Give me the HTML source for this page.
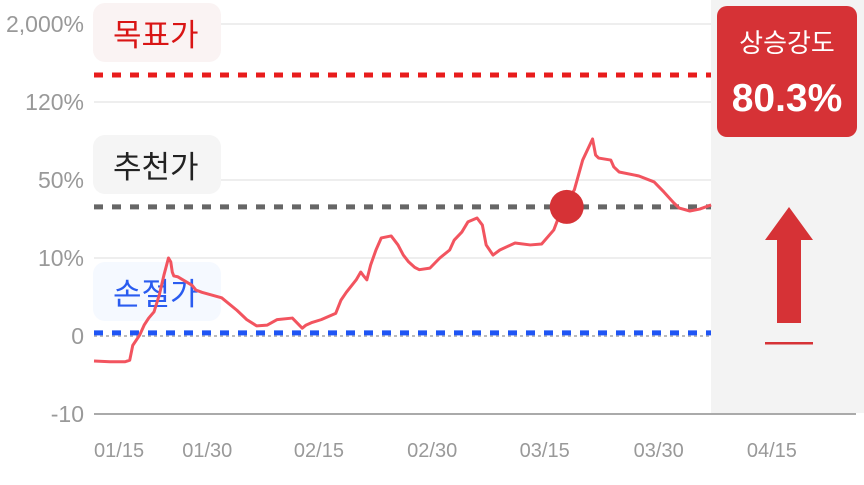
<!DOCTYPE html>
<html><head><meta charset="utf-8"><style>
body{margin:0;background:#fff;width:864px;height:480px;overflow:hidden;font-family:"Liberation Sans","Noto Sans CJK KR",sans-serif}
svg text{font-family:"Liberation Sans","Noto Sans CJK KR",sans-serif}
</style></head><body>
<svg id="chart" width="864" height="480" xmlns="http://www.w3.org/2000/svg">
<rect x="711" y="0" width="153" height="413" fill="#f3f3f3"/>
<g id="grid"></g>
<g id="labels"></g>
<g id="levels"></g>
<g id="series"></g>
<rect x="717" y="6" width="140" height="131" rx="10" fill="#d63236"/>
<text x="787" y="52" fill="#fff" font-size="26" text-anchor="middle">상승강도</text>
<text x="787" y="111" fill="#fff" font-size="39" font-weight="bold" text-anchor="middle">80.3%</text>
<polygon points="789,207 813,240 801,240 801,323 777,323 777,240 765,240" fill="#d63236"/>
<rect x="765" y="342" width="48" height="2.5" fill="#d63236"/>
</svg>
<script>
const tickValues=[-10,0,10,50,120,2000];
const tickLabels=["-10","0","10%","50%","120%","2,000%"];
const xLabels=["01/15","01/30","02/15","02/30","03/15","03/30","04/15"];
const xLabelDays=[3.3,14.9,29.6,44.5,59.3,74.3,89.2];
const seriesDays=[0,2.1,4.1,4.7,5.1,6,6.6,7.2,7.9,8.6,9.2,9.8,10.1,10.3,10.5,11,12.9,13.4,14.2,16.8,18.8,20.1,21.4,22.8,24.1,26.1,27.4,27.9,28.6,29.9,31.8,32.5,33.2,34.5,35.1,35.4,35.9,36.4,37.1,37.8,39.1,40,40.7,41.4,42.2,42.8,44.2,45.5,46.8,47.4,48.4,49.2,50.4,51.1,51.6,52.5,53.4,55.4,57.4,58.9,60.5,61.6,63.2,64.3,65.6,66,66.4,68,68.4,69.1,71.7,73.7,75,76.3,77,78.4,79.7,81.2];
const seriesValues=[-3.2,-3.3,-3.3,-3.1,-1.2,0.1,1.4,2.3,3.1,5.3,7.8,10,9.5,8.2,7.7,7.6,6.5,5.9,5.6,4.9,3.3,2.1,1.3,1.4,2.1,2.3,1.0,1.4,1.7,2.1,2.9,4.6,5.6,7.2,8.2,7.8,7.2,9.1,14.1,20.3,21.3,16.7,11.5,9.5,8.8,8.5,8.7,10,14.1,19.2,23.3,28.5,30.5,26.9,16.7,11.5,14.1,17.7,16.7,17.2,24.4,35.6,44.9,67.9,86.8,72.4,69.7,67.9,61.7,57.2,53.6,49,43.8,38.2,35.6,34.1,35.1,37.2];
const levelNames=["목표가","추천가","손절가"];
const levelValues=[771,36.2,0.4];
const markerDay=62.2, markerValue=36.2;
const tickY=[414,336,258,180,102,24];
const NS="http://www.w3.org/2000/svg";
function xs(d){return 94+d*7.6;}
function ys(v){
  for(let i=0;i<tickValues.length-1;i++){
    if(v<=tickValues[i+1]||i===tickValues.length-2){
      const t=(v-tickValues[i])/(tickValues[i+1]-tickValues[i]);
      return tickY[i]+t*(tickY[i+1]-tickY[i]);
    }
  }
}
function mk(tag,attrs,parent){const e=document.createElementNS(NS,tag);for(const k in attrs)e.setAttribute(k,attrs[k]);parent.appendChild(e);return e;}
const grid=document.getElementById('grid');
tickValues.forEach((v,i)=>{
  const y=ys(v);
  let l;
  if(v===0){l=mk('line',{x1:94,x2:711,y1:y,y2:y,stroke:'#bbb','stroke-width':2,'stroke-dasharray':'3 3'},grid);}
  else if(i===0){l=mk('line',{x1:94,x2:856,y1:y,y2:y,stroke:'#aaa','stroke-width':2},grid);}
  else{l=mk('line',{x1:94,x2:711,y1:y,y2:y,stroke:'#eee','stroke-width':2},grid);}
  
  
  const t=mk('text',{x:84,y:y+8,'text-anchor':'end','font-size':23,fill:'#999'},grid);
  t.textContent=tickLabels[i];
  
  
});
xLabels.forEach((s,i)=>{
  const t=mk('text',{x:xs(xLabelDays[i]),y:457,'text-anchor':'middle','font-size':20,fill:'#999'},grid);
  t.textContent=s;
  
  
});
const lv=document.getElementById('levels'),lb=document.getElementById('labels');
const lvColors=['#e81c1c','#666','#1f55f5'],bg=['#faf3f3','#f5f5f5','#f5f9ff'],tc=['#d91515','#222','#2a5cf0'];
const boxTop=[3,135,262];
levelValues.forEach((v,i)=>{
  const y=ys(v);
  const l=mk('line',{x1:94,x2:711,y1:y,y2:y,stroke:lvColors[i],'stroke-width':5,'stroke-dasharray':'9 9'},lv);
  
  
  const r=mk('rect',{x:93,y:boxTop[i],width:128,height:59,rx:12,fill:bg[i]},lb);
  
  
  const t=mk('text',{x:113,y:boxTop[i]+43,'font-size':31,fill:tc[i]},lb);
  t.textContent=levelNames[i];
  
  
});
const sr=document.getElementById('series');
const p=mk('polyline',{points:seriesDays.map((d,i)=>xs(d)+','+ys(seriesValues[i])).join(' '),fill:'none',stroke:'#f2545f','stroke-width':3,'stroke-linejoin':'round'},sr);


const c=mk('circle',{cx:xs(markerDay),cy:ys(markerValue),r:17,fill:'#d63236'},sr);


</script>
</body></html>
